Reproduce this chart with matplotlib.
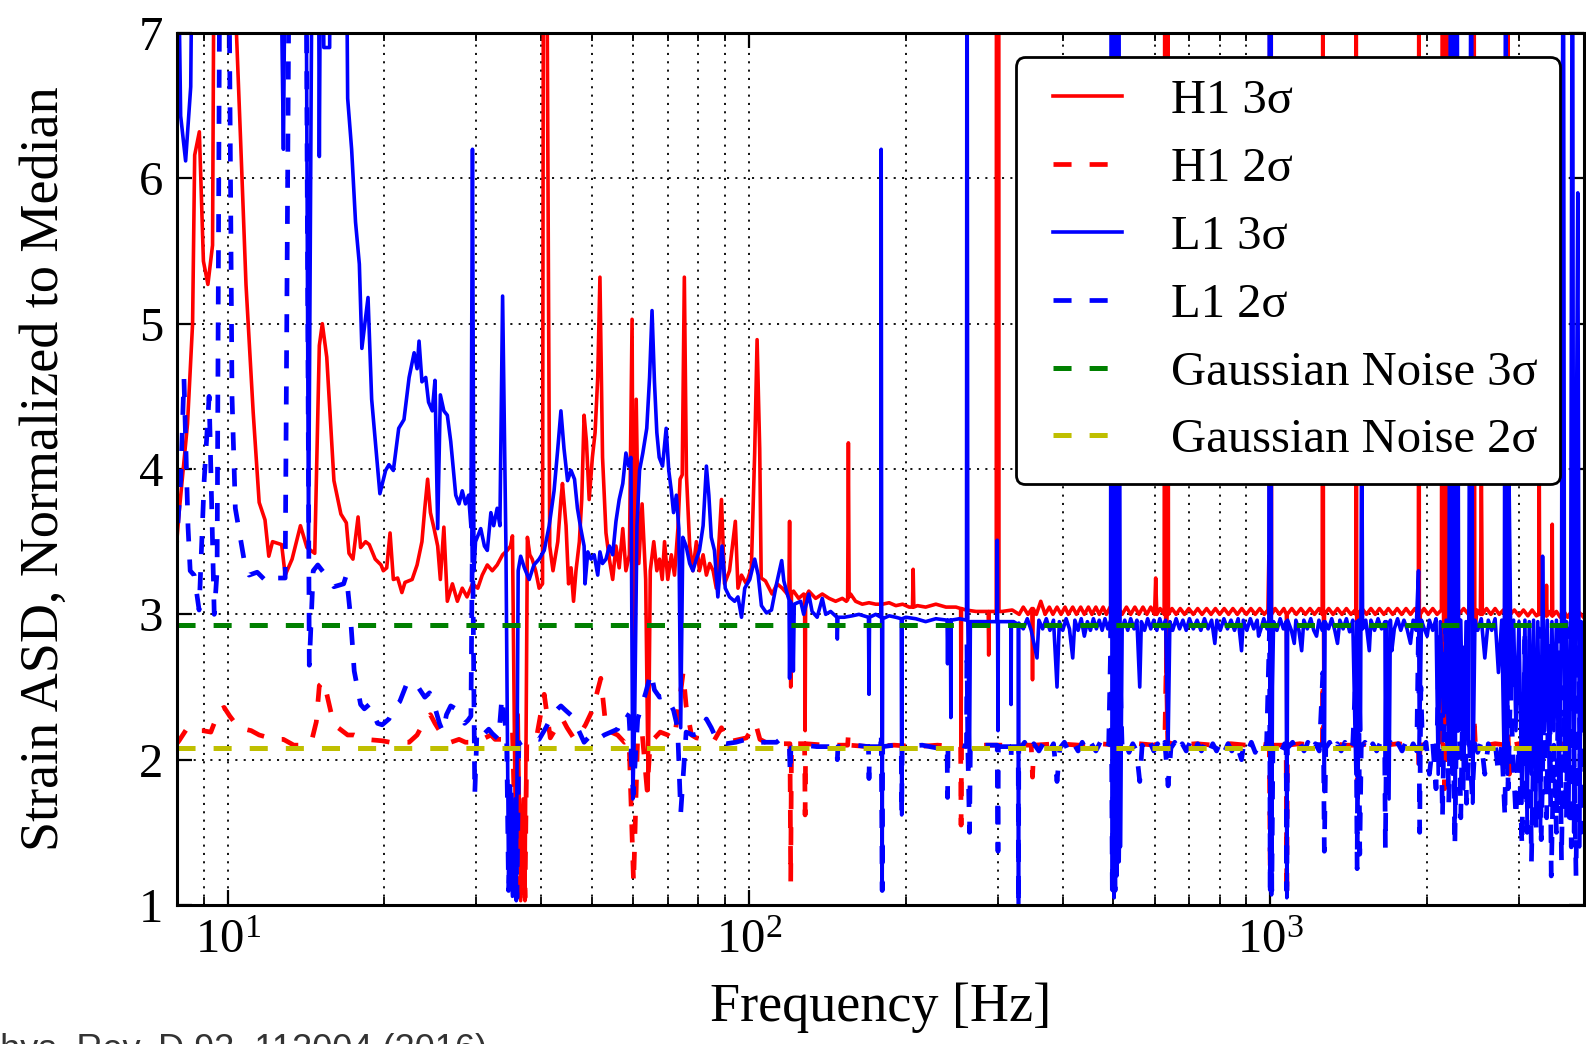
import numpy as np
import matplotlib
matplotlib.use("Agg")
import matplotlib.pyplot as plt
import matplotlib.ticker as mtick
from matplotlib.lines import Line2D
from matplotlib.legend_handler import HandlerLine2D

# values: (frequency in Hz, ASD / median)
# anything above 7 is clipped by the axis
h1_3sigma = [
    (7.95, 3.4), (8.07, 3.69), (8.38, 4.31), (8.57, 5.0), (8.65, 6.16), (8.83, 6.32), (8.99, 5.43),
    (9.17, 5.27), (9.36, 5.54), (9.46, 9.0), (10.0, 9.0), (10.4, 7.01), (10.6, 6.24), (10.85, 5.27),
    (11.2, 4.39), (11.5, 3.77), (11.8, 3.65), (12.0, 3.40), (12.2, 3.50), (12.7, 3.48), (12.9, 3.27),
    (13.3, 3.38), (13.8, 3.61), (14.2, 3.46), (14.7, 3.42), (15.0, 4.85), (15.2, 5.0), (15.5, 4.77),
    (16.0, 3.92), (16.5, 3.69), (16.9, 3.63), (17.1, 3.42), (17.4, 3.38), (17.8, 3.67), (18.0, 3.46),
    (18.4, 3.50), (18.7, 3.48), (19.2, 3.38), (19.7, 3.34), (19.9, 3.30), (20.2, 3.32), (20.5, 3.56),
    (20.8, 3.24), (21.2, 3.25), (21.6, 3.15), (21.9, 3.22), (22.6, 3.24), (23.1, 3.34), (23.6, 3.50),
    (23.9, 3.73), (24.2, 3.93), (24.5, 3.70), (24.9, 3.59), (25.3, 3.47), (25.6, 3.24), (26.0, 3.60),
    (26.4, 3.09), (27.0, 3.21), (27.6, 3.09), (28.2, 3.18), (28.8, 3.12), (29.5, 3.21), (30.2, 3.18),
    (30.8, 3.27), (31.5, 3.34), (32.2, 3.30), (32.9, 3.34), (33.7, 3.41), (34.4, 3.44), (34.9, 3.47),
    (35.2, 3.54), (35.7, 1.30), (36.1, 2.31), (36.5, 1.03), (36.9, 1.73), (37.2, 1.03), (37.6, 3.53),
    (38.0, 3.41), (38.4, 3.38), (39.0, 3.30), (39.6, 3.18), (40.2, 3.21), (40.4, 9.0), (40.8, 9.0),
    (41.5, 3.47), (42.1, 3.30), (43.0, 3.50), (43.6, 3.79), (43.9, 3.90), (44.6, 3.61), (45.1, 3.21),
    (45.6, 3.32), (46.1, 3.09), (46.6, 3.30), (47.3, 3.50), (47.8, 3.79), (48.3, 4.37), (48.8, 4.19),
    (49.4, 3.79), (50.1, 4.08), (50.7, 4.25), (51.3, 4.63), (51.8, 5.32), (52.4, 4.08), (53.2, 3.56),
    (54.0, 3.38), (54.8, 3.24), (55.6, 3.47), (56.4, 3.32), (57.3, 3.59), (58.1, 3.30), (59.0, 3.41),
    (59.7, 5.03), (60.1, 2.6), (60.8, 4.48), (61.5, 3.35), (62.4, 3.76), (63.4, 3.24), (64.1, 1.79),
    (64.7, 3.30), (65.7, 3.50), (66.6, 3.30), (67.4, 3.38), (68.2, 3.24), (68.9, 3.50), (69.9, 3.24),
    (71.0, 3.41), (72.0, 3.27), (73.1, 3.59), (73.8, 3.93), (74.5, 3.96), (75.2, 5.32), (75.9, 3.96),
    (77.0, 3.47), (78.1, 3.30), (79.3, 3.50), (80.4, 3.30), (81.7, 3.41), (82.9, 3.27), (84.1, 3.35),
    (85.4, 3.30), (86.6, 3.18), (88.6, 3.79), (89.8, 3.21), (91.8, 3.30), (94.2, 3.64), (95.3, 3.18),
    (96.8, 3.27), (98.9, 3.21), (101.1, 3.32), (102.6, 4.11), (103.7, 4.89), (104.9, 4.14), (105.6, 3.25),
    (107.6, 3.23), (110.8, 3.14), (113.3, 3.21), (115.9, 3.18), (118.5, 3.14), (119.3, 3.12), (119.7, 3.64),
    (120.0, 3.12), (120.3, 2.5), (120.7, 3.14), (121.8, 3.16), (124.6, 3.11), (127.4, 3.14), (127.9, 3.12),
    (128.2, 2.2), (128.5, 3.12), (130.3, 3.16), (134.3, 3.11), (138.3, 3.14), (142.5, 3.11), (146.7, 3.09),
    (151.1, 3.11), (153.8, 3.09), (154.7, 3.10), (155.2, 4.18), (155.7, 3.12), (156.7, 3.14), (160.2, 3.09),
    (165.0, 3.07), (170.0, 3.08), (175.1, 3.07), (180.4, 3.07), (185.8, 3.08), (191.4, 3.06), (197.2, 3.07),
    (203.0, 3.05), (206.0, 3.05), (206.6, 3.31), (207.2, 3.05), (210.5, 3.06), (218.3, 3.05), (228.4, 3.07),
    (238.8, 3.05), (249.6, 3.05), (254.8, 3.04), (255.3, 2.06), (255.8, 3.04), (260.8, 3.03), (272.7, 3.02),
    (287.8, 3.02), (288.4, 2.72), (289.0, 3.02), (293.8, 3.02), (298.2, 3.02), (298.5, 9.0), (301.5, 9.0),
    (301.8, 3.02), (306, 3.02), (320, 3.03), (330, 3.0), (336, 3.05), (343, 3.0), (349, 3.04), (350, 2.55),
    (351, 3.04), (356, 3.0), (363, 3.09), (370, 3.0), (377, 3.05), (383, 3.0), (390, 3.05), (397, 3.0),
    (404, 3.05), (410, 3.0), (418, 3.05), (425, 3.0), (433, 3.05), (440, 3.0), (448, 3.05), (455, 3.0),
    (463, 3.05), (470, 3.0), (478, 3.05), (485, 3.0), (493, 3.05), (500, 3.0), (510, 3.05), (520, 3.0),
    (530, 3.05), (540, 3.0), (550, 3.05), (560, 3.0), (570, 3.05), (580, 3.0), (590, 3.05), (600, 3.0),
    (603, 3.25), (606, 3.0), (615, 3.04), (626, 3.0), (628, 9.0), (630, 3.0), (632, 2.6), (634, 3.0),
    (636, 9.0), (638, 3.0), (648, 3.04), (660, 3.0), (672, 3.04), (685, 3.0), (698, 3.04), (712, 3.0),
    (726, 3.04), (740, 3.0), (755, 3.04), (770, 3.0), (785, 3.04), (800, 3.0), (816, 3.04), (832, 3.0),
    (848, 3.04), (865, 3.0), (882, 3.04), (900, 3.0), (918, 3.04), (936, 3.0), (955, 3.04), (974, 3.0),
    (990, 3.03), (994, 3.4), (996, 3.0), (998, 9.0), (1000, 3.0), (1001, 1.25), (1002, 3.0), (1004, 9.0),
    (1006, 3.0), (1022, 3.04), (1042, 3.0), (1062, 3.04), (1074, 3.0), (1076, 2.2), (1078, 3.0),
    (1100, 3.04), (1122, 3.0), (1145, 3.04), (1168, 3.0), (1192, 3.04), (1216, 3.0), (1240, 3.04),
    (1258, 3.0), (1262, 9.0), (1265, 3.0), (1268, 2.3), (1271, 3.0), (1295, 3.04), (1320, 3.0),
    (1346, 3.04), (1373, 3.0), (1400, 3.04), (1428, 3.0), (1456, 3.03), (1460, 3.0), (1462, 9.0),
    (1465, 3.0), (1470, 2.2), (1474, 3.0), (1500, 3.04), (1530, 3.0), (1560, 3.04), (1590, 3.0),
    (1620, 3.04), (1652, 3.0), (1685, 3.04), (1718, 3.0), (1752, 3.04), (1787, 3.0), (1822, 3.04),
    (1858, 3.0), (1895, 3.04), (1924, 3.0), (1928, 9.0), (1932, 3.0), (1936, 2.4), (1940, 3.0),
    (1972, 3.04), (2010, 3.0), (2050, 3.04), (2090, 3.0), (2130, 3.03), (2140, 9.0), (2150, 3.0),
    (2160, 2.3), (2170, 3.0), (2180, 9.0), (2190, 3.0), (2200, 2.2), (2210, 3.0), (2250, 3.04),
    (2300, 3.0), (2350, 3.04), (2400, 3.0), (2450, 3.03), (2460, 9.0), (2468, 3.0), (2475, 2.9),
    (2490, 3.03), (2530, 3.0), (2541, 4.0), (2552, 3.0), (2600, 3.04), (2650, 3.0), (2700, 3.04),
    (2750, 3.0), (2800, 3.03), (2850, 3.0), (2858, 9.0), (2866, 3.0), (2875, 2.6), (2884, 3.0),
    (2940, 3.03), (3000, 2.99), (3060, 3.03), (3120, 2.99), (3180, 3.03), (3240, 2.99), (3275, 3.0),
    (3281, 4.05), (3288, 3.0), (3340, 3.02), (3380, 2.99), (3388, 3.2), (3396, 2.99), (3440, 3.02),
    (3470, 2.99), (3475, 3.62), (3482, 2.99), (3540, 3.02), (3600, 2.98), (3660, 3.02), (3720, 2.98),
    (3780, 3.02), (3840, 2.98), (3900, 3.02), (3990, 2.98),
]

h1_2sigma = [
    (7.95, 2.10), (8.07, 2.13), (8.38, 2.22), (8.63, 2.20), (8.96, 2.20), (9.29, 2.19), (9.64, 2.34),
    (9.85, 2.36), (10.1, 2.30), (10.5, 2.22), (11.1, 2.20), (11.5, 2.17), (12.3, 2.14), (12.8, 2.14),
    (13.4, 2.10), (14.0, 2.10), (14.5, 2.13), (14.8, 2.26), (15.0, 2.51), (15.3, 2.54), (15.6, 2.41),
    (15.9, 2.28), (16.3, 2.22), (17.0, 2.17), (17.5, 2.17), (18.4, 2.14), (19.8, 2.13), (20.5, 2.12),
    (22.3, 2.12), (23.1, 2.17), (23.9, 2.27), (24.5, 2.31), (25.0, 2.25), (25.6, 2.19), (26.3, 2.15),
    (26.8, 2.12), (27.8, 2.14), (28.6, 2.12), (29.7, 2.12), (30.8, 2.14), (32.0, 2.17), (32.6, 2.14),
    (33.7, 2.14), (34.6, 2.15), (35.2, 2.2), (35.7, 1.3), (36.1, 1.8), (36.5, 1.05), (36.9, 1.5),
    (37.2, 1.05), (37.5, 2.11), (39.0, 2.12), (40.5, 2.45), (41.6, 2.15), (43.2, 2.25), (43.9, 2.28),
    (44.8, 2.22), (46.3, 2.14), (47.3, 2.17), (48.6, 2.24), (50.1, 2.34), (51.3, 2.48), (52.0, 2.56),
    (53.2, 2.22), (54.4, 2.19), (56.0, 2.17), (57.7, 2.12), (58.9, 2.14), (60.1, 1.15), (61.2, 2.17),
    (62.4, 2.19), (63.8, 1.79), (64.7, 2.12), (66.0, 2.15), (67.6, 2.19), (69.9, 2.17), (71.9, 2.14),
    (73.4, 2.37), (74.8, 2.60), (75.8, 2.37), (77.6, 2.17), (79.3, 2.15), (82.9, 2.14), (85.4, 2.12),
    (88.6, 2.22), (90.7, 2.12), (96.1, 2.14), (98.9, 2.15), (103, 2.25), (105, 2.14), (109, 2.11),
    (114, 2.11), (118.5, 2.11), (119.9, 2.11), (120.3, 1.16), (120.7, 2.11), (127.4, 2.11), (127.9, 2.11),
    (128.2, 1.62), (128.5, 2.11), (140, 2.10), (154.7, 2.10), (155.2, 2.18), (155.7, 2.10), (170, 2.09),
    (190, 2.10), (210, 2.09), (230, 2.10), (254.8, 2.09), (255.3, 1.55), (255.8, 2.09), (280, 2.10),
    (300, 2.10), (320, 2.10), (348, 2.10), (350, 1.88), (352, 2.10), (390, 2.11), (430, 2.10), (470, 2.11),
    (510, 2.10), (560, 2.11), (600, 2.10), (628, 2.15), (632, 2.7), (636, 2.12), (660, 2.10), (720, 2.11),
    (780, 2.10), (840, 2.11), (900, 2.10), (960, 2.11), (996, 2.10), (1000, 1.23), (1004, 2.10),
    (1040, 2.10), (1073, 2.10), (1076, 1.05), (1079, 2.10), (1140, 2.11), (1200, 2.10), (1259, 2.10),
    (1262, 2.54), (1266, 2.10), (1320, 2.11), (1400, 2.10), (1458, 2.10), (1462, 2.8), (1470, 1.7),
    (1478, 2.10), (1560, 2.11), (1660, 2.10), (1760, 2.11), (1860, 2.10), (1924, 2.10), (1928, 1.92),
    (1940, 2.10), (2050, 2.11), (2135, 2.10), (2140, 2.6), (2160, 1.8), (2180, 2.7), (2200, 2.10),
    (2300, 2.11), (2455, 2.10), (2460, 2.3), (2475, 2.10), (2600, 2.10), (2700, 2.11), (2852, 2.10),
    (2858, 2.2), (2875, 1.9), (2900, 2.10), (3000, 2.11), (3200, 2.10), (3295, 2.10), (3300, 2.0),
    (3305, 2.10), (3400, 2.10), (3600, 2.11), (3800, 2.10), (3990, 2.10),
]

l1_3sigma = [
    (7.95, 9.0), (8.13, 6.43), (8.31, 6.12), (8.5, 6.63), (8.62, 9.0), (12.5, 9.0), (12.8, 6.2),
    (13.0, 9.0), (14.1, 9.0), (14.3, 3.45), (14.6, 9.0), (14.9, 9.0), (15.0, 6.15), (15.15, 9.0),
    (15.3, 6.9), (15.7, 6.9), (15.8, 9.0), (16.8, 9.0), (17.0, 6.55), (17.3, 6.2), (17.6, 5.7),
    (17.9, 5.41), (18.1, 4.83), (18.6, 5.18), (18.9, 4.48), (19.6, 3.83), (20.1, 3.99), (20.4, 4.03),
    (20.8, 3.99), (21.3, 4.28), (21.8, 4.34), (22.3, 4.63), (22.8, 4.80), (23.1, 4.69), (23.3, 4.88),
    (23.6, 4.60), (24.0, 4.63), (24.3, 4.46), (24.7, 4.40), (25.0, 4.61), (25.3, 3.59), (25.6, 4.51),
    (26.0, 4.40), (26.4, 4.37), (26.8, 4.19), (27.4, 3.82), (27.8, 3.76), (28.2, 3.85), (28.6, 3.76),
    (29.0, 3.82), (29.3, 3.6), (29.5, 6.2), (29.7, 3.3), (29.9, 3.50), (30.6, 3.59), (31.1, 3.47),
    (31.5, 3.44), (32.0, 3.70), (32.4, 3.61), (32.9, 3.73), (33.3, 3.61), (33.7, 5.19), (34.2, 3.47),
    (34.6, 1.15), (34.9, 1.82), (35.2, 1.06), (35.6, 1.73), (35.8, 1.03), (36.1, 3.30), (36.5, 3.40),
    (37.1, 3.32), (37.9, 3.24), (38.7, 3.34), (39.6, 3.38), (40.5, 3.44), (41.4, 3.61), (42.3, 3.85),
    (43.0, 4.14), (43.6, 4.40), (44.2, 4.14), (44.9, 3.92), (45.6, 3.99), (46.3, 3.93), (46.9, 3.73),
    (47.6, 3.59), (48.3, 3.47), (48.5, 3.21), (49.1, 3.43), (49.8, 3.38), (50.5, 3.41), (51.3, 3.27),
    (51.8, 3.43), (52.4, 3.35), (53.2, 3.38), (54.0, 3.47), (54.8, 3.41), (55.6, 3.64), (56.4, 3.79),
    (57.3, 3.90), (58.1, 4.11), (58.8, 4.02), (59.4, 4.08), (59.9, 1.73), (60.4, 2.31), (61.0, 3.61),
    (61.7, 3.99), (62.6, 4.11), (63.7, 4.28), (64.5, 4.63), (65.2, 5.09), (65.9, 4.60), (66.6, 4.25),
    (67.3, 4.08), (68.3, 4.02), (69.4, 4.28), (70.2, 3.99), (71.0, 3.85), (71.7, 3.70), (72.6, 3.82),
    (73.4, 3.59), (74.0, 2.22), (74.7, 3.53), (75.8, 3.47), (77.0, 3.35), (78.1, 3.30), (79.3, 3.38),
    (80.4, 3.44), (81.7, 3.61), (82.9, 4.02), (83.8, 3.82), (84.7, 3.53), (85.9, 3.44), (87.2, 3.12),
    (88.8, 3.47), (90.1, 3.18), (91.8, 3.12), (93.9, 3.09), (95.3, 3.12), (96.8, 2.98), (98.2, 3.18),
    (100.4, 3.24), (102.6, 3.38), (104.2, 3.27), (105.7, 3.06), (108.1, 3.01), (110.5, 3.03),
    (113.0, 3.21), (115.6, 3.37), (116.7, 3.23), (118.5, 3.14), (119.4, 3.10), (119.7, 2.56),
    (120.1, 3.09), (121.3, 3.05), (121.7, 2.61), (122.2, 3.07), (125.7, 3.09), (127.4, 3.00),
    (130.3, 3.14), (132.2, 3.02), (135.2, 2.98), (138.3, 3.11), (140.4, 3.00), (143.5, 3.02),
    (147.5, 2.98), (147.8, 2.83), (148.2, 2.98), (152.3, 2.98), (157.9, 2.99), (162.6, 3.00),
    (169.6, 2.98), (170.0, 2.45), (170.4, 2.98), (175.1, 3.00), (179.2, 2.98), (179.4, 6.2), (179.8, 2.95),
    (180.2, 1.1), (180.6, 2.97), (185.8, 2.99), (191.4, 2.98), (196.0, 2.97), (196.4, 1.62), (196.8, 2.97),
    (200, 2.98), (209, 2.97), (218.3, 2.95), (228.4, 2.97), (240.0, 2.96), (240.5, 2.66), (241.0, 2.96),
    (243.6, 2.96), (244.0, 2.29), (244.4, 2.96), (253.5, 2.97), (261.5, 2.96), (262, 9.0), (263, 2.96),
    (265, 2.0), (266, 2.95), (272.7, 2.95), (285, 2.95), (299, 2.95), (299.5, 3.51), (300, 2.95),
    (300.5, 2.2), (301, 2.95), (311, 2.95), (318, 2.95), (318.4, 2.38), (318.8, 2.95), (322, 2.95),
    (328.6, 2.93), (329, 1.0), (329.4, 2.94), (336, 2.90), (342, 2.97), (348, 2.89), (357, 2.70),
    (360, 2.96), (366, 2.90), (372, 2.97), (378, 2.89), (384, 2.96), (390, 2.50), (394, 2.95), (400, 2.89),
    (406, 2.97), (412, 2.90), (418, 2.70), (422, 2.96), (428, 2.89), (434, 2.97), (440, 2.85), (446, 2.95),
    (452, 2.89), (458, 2.97), (464, 2.90), (470, 2.96), (476, 2.89), (482, 2.97), (488, 2.90), (494, 2.96),
    (496, 9.0), (498, 1.1), (500, 9.0), (502, 1.05), (505, 9.0), (508, 1.2), (512, 9.0), (516, 1.4),
    (520, 2.90), (526, 2.96), (533, 2.89), (540, 2.97), (548, 2.90), (555, 2.96), (562, 2.50), (566, 2.95),
    (574, 2.89), (582, 2.97), (590, 2.90), (598, 2.96), (606, 2.89), (614, 2.97), (622, 2.90), (630, 2.96),
    (637, 2.10), (642, 2.95), (650, 2.89), (660, 2.97), (670, 2.90), (680, 2.96), (690, 2.89), (700, 2.97),
    (712, 2.90), (724, 2.96), (736, 2.89), (748, 2.97), (760, 2.90), (772, 2.96), (783, 2.80), (790, 2.96),
    (802, 2.89), (815, 2.97), (828, 2.90), (841, 2.96), (854, 2.89), (868, 2.97), (881, 2.75), (888, 2.96),
    (902, 2.89), (916, 2.97), (930, 2.90), (944, 2.96), (950, 2.85), (958, 2.89), (972, 2.97), (986, 2.90),
    (994, 2.96), (997, 9.0), (1000, 1.1), (1003, 9.0), (1006, 1.07), (1010, 2.5), (1015, 2.95),
    (1030, 2.89), (1045, 2.97), (1060, 2.90), (1073, 2.95), (1076, 1.05), (1080, 2.96), (1098, 2.89),
    (1112, 2.80), (1120, 2.96), (1135, 2.89), (1149, 2.75), (1160, 2.96), (1178, 2.90), (1196, 2.97),
    (1212, 2.89), (1227, 2.85), (1240, 2.96), (1258, 2.89), (1267, 2.95), (1270, 1.78), (1274, 2.95),
    (1294, 2.90), (1312, 2.97), (1330, 2.89), (1346, 2.80), (1360, 2.96), (1380, 2.90), (1400, 2.97),
    (1420, 2.88), (1440, 2.96), (1460, 1.9), (1466, 2.95), (1472, 1.73), (1478, 2.96), (1490, 2.2),
    (1498, 4.5), (1504, 2.90), (1525, 2.96), (1549, 2.75), (1560, 2.96), (1585, 2.89), (1610, 2.97),
    (1635, 2.90), (1660, 2.95), (1663, 2.0), (1670, 2.95), (1690, 1.73), (1700, 2.96), (1711, 2.75),
    (1730, 2.90), (1755, 2.97), (1780, 2.89), (1805, 2.96), (1830, 2.90), (1858, 2.80), (1880, 2.96),
    (1905, 2.89), (1925, 3.3), (1932, 2.05), (1940, 2.4), (1950, 2.96), (1975, 2.90), (2000, 2.85),
    (2020, 2.96), (2050, 2.89), (2080, 2.97), (2100, 1.9), (2120, 2.95), (2150, 2.3), (2175, 2.96),
    (2200, 2.0), (2220, 9.0), (2235, 1.9), (2250, 9.0), (2265, 1.6), (2280, 9.0), (2300, 2.2),
    (2320, 2.96), (2350, 1.8), (2375, 2.95), (2400, 2.1), (2432, 9.0), (2445, 1.7), (2470, 2.96),
    (2500, 2.89), (2540, 2.97), (2580, 2.7), (2620, 2.96), (2660, 2.89), (2700, 2.97), (2740, 2.6),
    (2780, 2.96), (2810, 2.0), (2830, 9.0), (2850, 1.9), (2870, 4.0), (2900, 2.5), (2930, 2.96),
    (2960, 2.2), (3000, 2.95), (3040, 1.7), (3080, 2.96), (3110, 1.5), (3140, 2.95), (3170, 1.9),
    (3200, 2.96), (3230, 1.6), (3260, 2.95), (3300, 1.5), (3330, 3.4), (3360, 2.2), (3400, 2.96),
    (3430, 1.8), (3470, 2.95), (3500, 2.2), (3540, 2.96), (3580, 1.7), (3620, 2.95), (3648, 9.0),
    (3670, 2.0), (3700, 2.95), (3740, 1.6), (3770, 2.96), (3800, 9.0), (3820, 1.5), (3850, 2.90),
    (3890, 5.9), (3920, 1.4), (3950, 2.95), (3990, 2.2),
]

l1_2sigma = [
    (7.95, 3.38), (8.13, 3.92), (8.25, 4.62), (8.4, 3.6), (8.48, 3.30), (8.63, 3.27), (8.82, 3.03),
    (9.02, 3.92), (9.22, 4.50), (9.43, 3.0), (9.55, 3.3), (9.7, 9.0), (10.0, 9.0), (10.2, 4.5),
    (10.35, 3.73), (10.8, 3.34), (11.0, 3.27), (11.4, 3.29), (12.0, 3.21), (12.5, 3.25), (12.9, 3.25),
    (13.2, 9.0), (14.1, 9.0), (14.35, 2.65), (14.6, 3.3), (14.9, 3.34), (15.2, 3.30), (15.6, 3.25),
    (16.0, 3.19), (16.7, 3.21), (16.9, 3.27), (17.2, 3.0), (17.5, 2.61), (18.0, 2.38), (18.3, 2.35),
    (18.7, 2.38), (19.4, 2.25), (19.8, 2.24), (20.4, 2.28), (21.0, 2.37), (21.4, 2.40), (22.0, 2.51),
    (22.7, 2.54), (23.1, 2.51), (23.9, 2.43), (24.4, 2.46), (24.9, 2.38), (25.5, 2.25), (25.9, 2.19),
    (26.3, 2.31), (26.8, 2.37), (27.4, 2.35), (28.0, 2.31), (28.5, 2.25), (28.9, 2.27), (29.3, 2.3),
    (29.5, 3.6), (29.8, 1.76), (30.1, 2.2), (30.4, 2.17), (31.1, 2.18), (31.7, 2.21), (32.2, 2.18),
    (33.1, 2.14), (33.6, 2.43), (34.3, 2.17), (34.6, 1.1), (35.0, 1.8), (35.3, 1.05), (35.7, 1.7),
    (35.9, 1.05), (36.2, 2.11), (37.4, 2.14), (38.5, 2.15), (39.6, 2.14), (40.8, 2.22), (42.0, 2.31),
    (43.0, 2.35), (43.6, 2.37), (44.5, 2.34), (45.8, 2.30), (46.9, 2.22), (48.3, 2.12), (49.8, 2.17),
    (51.3, 2.14), (52.8, 2.17), (54.4, 2.19), (56.0, 2.21), (57.7, 2.32), (58.9, 2.30), (60.0, 1.76),
    (61.2, 2.28), (62.3, 2.37), (63.4, 2.46), (64.9, 2.60), (65.9, 2.48), (67.4, 2.43), (69.4, 2.44),
    (71.7, 2.34), (73.0, 2.22), (74.0, 1.63), (75.8, 2.19), (78.1, 2.17), (80.4, 2.18), (82.9, 2.28),
    (84.7, 2.22), (87.2, 2.12), (90.4, 2.11), (94.4, 2.12), (98.9, 2.14), (105, 2.12), (113, 2.12),
    (115.6, 2.15), (118.5, 2.10), (119.6, 2.09), (120.0, 1.9), (120.4, 2.08), (121.5, 2.08),
    (127.4, 2.10), (135, 2.09), (147.4, 2.09), (147.8, 2.0), (148.2, 2.09), (160, 2.10), (169.6, 2.09),
    (170.0, 1.87), (170.4, 2.09), (179.0, 2.09), (179.4, 2.2), (180.2, 1.1), (180.6, 2.09), (190, 2.10),
    (196.0, 2.09), (196.4, 1.62), (196.8, 2.09), (215, 2.10), (230, 2.08), (240.0, 2.09), (240.5, 1.74),
    (241.0, 2.09), (255, 2.10), (261.5, 2.09), (262, 2.8), (263, 2.09), (265, 1.5), (266, 2.09),
    (285, 2.10), (299.5, 2.10), (300.5, 1.37), (301, 2.09), (318, 2.09), (318.4, 2.0), (318.8, 2.09),
    (328.6, 2.09), (329, 1.0), (329.4, 2.09), (332, 2.08), (338, 2.12), (345, 2.05), (352, 2.11),
    (360, 2.06), (368, 2.12), (376, 2.05), (384, 2.11), (390, 1.85), (395, 2.08), (403, 2.12), (411, 2.05),
    (420, 2.11), (428, 2.06), (436, 2.12), (445, 2.05), (454, 2.11), (463, 2.06), (472, 2.12), (481, 2.05),
    (490, 2.11), (495, 2.9), (498, 1.05), (501, 2.9), (504, 1.1), (508, 2.9), (512, 1.3), (516, 2.5),
    (520, 2.08), (528, 2.12), (536, 2.05), (545, 2.11), (554, 2.06), (562, 1.85), (568, 2.10), (578, 2.05),
    (588, 2.12), (598, 2.06), (608, 2.11), (618, 2.05), (628, 2.12), (637, 1.82), (645, 2.08), (656, 2.12),
    (667, 2.05), (678, 2.11), (690, 2.06), (702, 2.12), (714, 2.05), (726, 2.11), (738, 2.06), (750, 2.12),
    (763, 2.05), (776, 2.11), (789, 2.06), (802, 2.12), (816, 2.05), (830, 2.11), (844, 2.06), (858, 2.12),
    (872, 2.05), (881, 2.0), (890, 2.11), (905, 2.06), (920, 2.12), (936, 2.05), (952, 2.11), (968, 2.06),
    (984, 2.10), (997, 2.9), (1000, 1.05), (1003, 2.9), (1007, 1.1), (1012, 2.08), (1030, 2.12),
    (1048, 2.05), (1066, 2.11), (1073, 2.08), (1076, 1.1), (1079, 2.08), (1104, 2.12), (1123, 2.05),
    (1142, 2.11), (1161, 2.06), (1181, 2.12), (1201, 2.05), (1221, 2.11), (1242, 2.06), (1262, 2.6),
    (1270, 1.37), (1278, 2.08), (1300, 2.12), (1322, 2.05), (1345, 2.11), (1368, 2.06), (1391, 2.12),
    (1415, 2.05), (1440, 2.11), (1460, 2.6), (1468, 1.25), (1476, 2.9), (1485, 1.35), (1495, 2.09),
    (1520, 2.12), (1546, 2.05), (1573, 2.11), (1600, 2.06), (1628, 2.12), (1658, 2.08), (1663, 1.39),
    (1670, 2.08), (1700, 2.12), (1730, 2.05), (1760, 2.11), (1790, 2.06), (1820, 2.12), (1850, 2.05),
    (1880, 2.11), (1910, 2.06), (1925, 2.9), (1935, 1.5), (1945, 2.5), (1960, 2.08), (1990, 2.12),
    (2020, 1.9), (2050, 2.11), (2080, 1.8), (2110, 2.9), (2140, 1.6), (2170, 2.9), (2200, 1.7),
    (2230, 2.9), (2260, 1.4), (2290, 2.9), (2320, 1.6), (2350, 2.8), (2380, 1.7), (2410, 2.12),
    (2440, 1.75), (2470, 2.11), (2500, 2.05), (2540, 2.12), (2580, 1.9), (2620, 2.11), (2660, 2.05),
    (2700, 2.12), (2740, 1.9), (2780, 2.11), (2820, 1.6), (2840, 2.9), (2860, 1.8), (2890, 2.5),
    (2920, 2.05), (2960, 1.6), (3000, 2.11), (3040, 1.4), (3080, 2.9), (3110, 1.5), (3140, 2.6),
    (3170, 1.3), (3200, 2.1), (3240, 1.5), (3280, 2.9), (3310, 1.45), (3350, 2.4), (3390, 1.6),
    (3430, 2.8), (3460, 1.2), (3500, 2.1), (3540, 1.5), (3580, 2.9), (3620, 1.3), (3660, 2.5),
    (3700, 1.6), (3740, 2.9), (3780, 1.4), (3820, 2.2), (3860, 1.2), (3900, 2.8), (3950, 1.5), (3990, 2.1),
]

gauss_3sigma = 2.925
gauss_2sigma = 2.08

labels = ['H1 3σ', 'H1 2σ', 'L1 3σ', 'L1 2σ', 'Gaussian Noise 3σ', 'Gaussian Noise 2σ']

plt.rcParams['font.family'] = ['Liberation Serif', 'DejaVu Serif']
plt.rcParams['mathtext.fontset'] = 'custom'
plt.rcParams['mathtext.rm'] = 'Liberation Serif'
plt.rcParams['lines.scale_dashes'] = False

fig = plt.figure(figsize=(15.86, 10.44), dpi=100)
ax = fig.add_axes([0.1116, 0.1331, 0.8872, 0.8353])

dash = (13, 13)
h1_3 = np.array(h1_3sigma)
h1_2 = np.array(h1_2sigma)
l1_3 = np.array(l1_3sigma)
l1_2 = np.array(l1_2sigma)

ax.plot(h1_3[:, 0], h1_3[:, 1], color='r', lw=2.6, label=labels[0])
ax.plot(h1_2[:, 0], h1_2[:, 1], color='r', lw=3.4, dashes=dash, label=labels[1])
ax.plot(l1_3[:, 0], l1_3[:, 1], color='b', lw=2.6, label=labels[2])
ax.plot(l1_2[:, 0], l1_2[:, 1], color='b', lw=3.4, dashes=dash, label=labels[3])
ax.axhline(gauss_3sigma, color='g', lw=3.6, dashes=dash, label=labels[4])
ax.axhline(gauss_2sigma, color='y', lw=3.6, dashes=dash, label=labels[5])

ax.set_xscale('log')
ax.set_xlim(8, 4000)
ax.set_ylim(1, 7)
ax.yaxis.set_major_locator(mtick.MultipleLocator(1))

dots = (0, (1.5, 4.5))
ax.grid(True, which='major', color='k', linestyle=dots, linewidth=1.3)
ax.grid(True, which='minor', axis='x', color='k', linestyle=dots, linewidth=1.3)

ax.tick_params(which='both', direction='in', top=True, right=True, labelsize=35, pad=10)
ax.tick_params(which='major', length=11, width=1.6)
ax.tick_params(which='minor', length=5.5, width=1.3)
for s in ax.spines.values():
    s.set_linewidth(2.2)

ax.set_xlabel('Frequency [Hz]', fontsize=39)
ax.set_ylabel('Strain ASD, Normalized to Median', fontsize=39)
ax.xaxis.set_label_coords(0.5, -0.089)
ax.yaxis.set_label_coords(-0.076, 0.5)

# handles start a bit to the right of the frame in the original
leg = ax.legend(loc='upper right', fontsize=35, handlelength=1.73, handletextpad=1.02,
                labelspacing=0.49, borderpad=0.45, fancybox=True, framealpha=1,
                handler_map={Line2D: HandlerLine2D(xpad=0.31)})
leg.get_frame().set_edgecolor('k')
leg.get_frame().set_linewidth(2)

# citation, cut off at the figure edge like in the source
fig.text(-0.0151, -0.0153, 'Phys. Rev. D 93, 112004 (2016)', fontsize=26,
         family=['Liberation Sans', 'DejaVu Sans'], color='#333333', va='baseline')

fig.savefig('out.png', dpi=100)
